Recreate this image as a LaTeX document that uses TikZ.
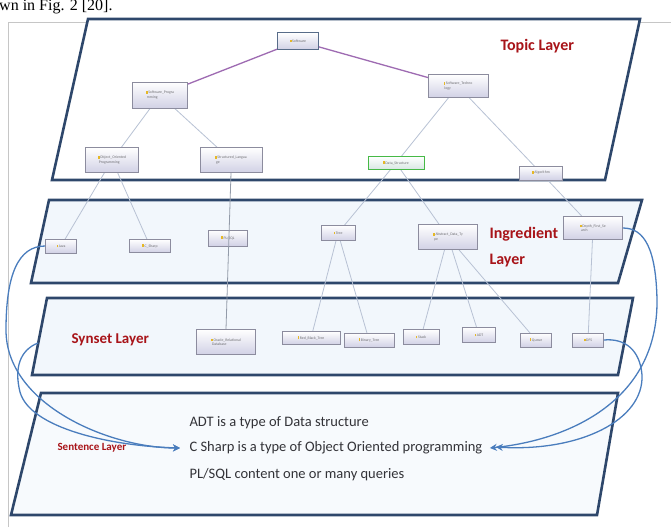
\documentclass[tikz,border=0pt]{standalone}
\usepackage{fontspec}
\setmainfont{Carlito}
\newfontfamily\capfont{Liberation Serif}
\usetikzlibrary{arrows.meta}
\newcommand\tico{\textcolor{tkIcon}{\rule{1.6pt}{2.6pt}}\,}

\begin{document}
\begin{tikzpicture}[x=1pt, y=-1pt, layer/.style={line width=2.6pt, tkFrame, line join=miter}, tbox/.style={draw=tkBoxLine, line width=0.7pt, top color=white, bottom color=tkBoxFill, inner sep=1.2pt, align=left, font=\fontsize{3.8}{4.4}\selectfont, text=tkInk!70}, twig/.style={line width=0.8pt, tkTwig}, trunk/.style={line width=1.3pt, tkPurple}, tag/.style={font=\fontsize{16}{18}\selectfont\bfseries, text=tkRed, anchor=west}, sent/.style={font=\fontsize{14.5}{16}\selectfont, text=tkInk, anchor=west}, link/.style={line width=1.3pt, tkBlue, -{Stealth[length=7pt, width=7pt]}}]
\definecolor{tkInk}{rgb}{0.20,0.20,0.22}
\definecolor{tkFrame}{rgb}{0.18,0.28,0.42}
\definecolor{tkPaper}{rgb}{0.95,0.97,0.99}
\definecolor{tkBoxFill}{rgb}{0.82,0.82,0.90}
\definecolor{tkBoxLine}{rgb}{0.55,0.55,0.62}
\definecolor{tkIcon}{rgb}{0.90,0.72,0.15}
\definecolor{tkTwig}{rgb}{0.72,0.76,0.83}
\definecolor{tkPurple}{rgb}{0.62,0.42,0.70}
\definecolor{tkRed}{rgb}{0.66,0.08,0.10}
\definecolor{tkBlue}{rgb}{0.29,0.49,0.74}
\useasboundingbox (0,0) rectangle (671,527);
\clip (0,0) rectangle (671,527);
\node[anchor=base west, font=\capfont\fontsize{16}{18}\selectfont, inner sep=0pt] (cap) at (-1,11) {wn in Fig. 2 [20].};
\draw[gray!45, line width=0.8pt] (8,527) -- (8,22) -- (671,22);
\filldraw[layer, fill=white] (88,19) -- (640,19) -- (605,180) -- (52,180) -- cycle;
\filldraw[layer, fill=tkPaper] (49,200) -- (642,200) -- (618,283) -- (31,283) -- cycle;
\filldraw[layer, fill=tkPaper] (47,298) -- (633,298) -- (618,375) -- (32,375) -- cycle;
\filldraw[layer, fill=tkPaper!60] (41,393) -- (618,393) -- (597,515) -- (11,515) -- cycle;
\node[tag] (ltopic) at (497,46) {Topic Layer};
\node[tag] (lingr) at (486,234) {Ingredient};
\node[tag] (lingr2) at (486,261) {Layer};
\node[tag, font=\fontsize{15}{17}\selectfont\bfseries] (lsyn) at (68,340) {Synset Layer};
\node[tag, font=\fontsize{11}{13}\selectfont\bfseries] (lsent) at (54,448) {Sentence Layer};
\coordinate (soft) at (298,41);
\coordinate (softprog) at (160,95);
\coordinate (softtech) at (458,86);
\coordinate (oop) at (112,160);
\coordinate (struct) at (231,160);
\coordinate (datastr) at (396,163);
\coordinate (algo) at (541,173);
\coordinate (java) at (61,246);
\coordinate (csharp) at (150,246);
\coordinate (plsql) at (228,238);
\coordinate (tree) at (338,233);
\coordinate (adting) at (448,237);
\coordinate (dfsing) at (593,228);
\coordinate (oracle) at (226,342);
\coordinate (rbt) at (311,338);
\coordinate (bint) at (369,340);
\coordinate (stack) at (421,337);
\coordinate (adt) at (479,335);
\coordinate (queue) at (536,340);
\coordinate (dfs) at (588,340);
\draw[trunk] (soft) -- (softprog);
\draw[trunk] (soft) -- (softtech);
\draw[twig] (softprog) -- (oop);
\draw[twig] (softprog) -- (struct);
\draw[twig] (softtech) -- (datastr);
\draw[twig] (softtech) -- (algo);
\draw[twig] (oop) -- (java);
\draw[twig] (oop) -- (csharp);
\draw[twig] (datastr) -- (tree);
\draw[twig] (datastr) -- (adting);
\draw[twig] (algo) -- (dfsing);
\draw[twig] (tree) -- (rbt);
\draw[twig] (tree) -- (bint);
\draw[twig] (adting) -- (stack);
\draw[twig] (adting) -- (adt);
\draw[twig] (adting) -- (queue);
\draw[twig] (dfsing) -- (dfs);
\node[tbox, draw=tkFrame!80, minimum width=41pt, minimum height=17pt] (nsoft) at (soft) {\tico Software};
\node[tbox, minimum width=55pt, minimum height=26pt] (nsoftprog) at (softprog) {\tico Software\_Progra\\\ mming};
\node[tbox, minimum width=60pt, minimum height=23pt] (nsofttech) at (softtech) {\tico Software\_Techno\\\ logy};
\node[tbox, minimum width=53pt, minimum height=25pt] (noop) at (oop) {\tico Object\_Oriented\\\ Programming};
\node[tbox, minimum width=62pt, minimum height=25pt] (nstruct) at (struct) {\tico Structured\_Langua\\\ ge};
\node[tbox, draw=green!45!gray, bottom color=green!10!tkBoxFill!60, minimum width=56pt, minimum height=13pt] (ndatastr) at (datastr) {\tico Data\_Structure};
\node[tbox, minimum width=43pt, minimum height=14pt] (nalgo) at (algo) {\tico Algorithm};
\node[tbox, minimum width=31pt, minimum height=14pt] (njava) at (java) {\tico Java};
\node[tbox, minimum width=41pt, minimum height=13pt] (ncsharp) at (csharp) {\tico C\_Sharp};
\node[tbox, minimum width=39pt, minimum height=16pt] (nplsql) at (plsql) {\tico PL/SQL};
\node[tbox, minimum width=34pt, minimum height=15pt] (ntree) at (tree) {\tico Tree};
\node[tbox, minimum width=59pt, minimum height=25pt] (nadting) at (adting) {\tico Abstract\_Data\_Ty\\\ pe};
\node[tbox, minimum width=59pt, minimum height=23pt] (ndfsing) at (dfsing) {\tico Depth\_First\_Se\\\ arch};
\node[tbox, minimum width=59pt, minimum height=25pt] (noracle) at (oracle) {\tico Oracle\_Relational\\\ Database};
\node[tbox, minimum width=58pt, minimum height=13pt] (nrbt) at (rbt) {\tico Red\_Black\_Tree};
\node[tbox, minimum width=50pt, minimum height=14pt] (nbint) at (bint) {\tico Binary\_Tree};
\node[tbox, minimum width=36pt, minimum height=15pt] (nstack) at (stack) {\tico Stack};
\node[tbox, minimum width=33pt, minimum height=15pt] (nadt) at (adt) {\tico ADT};
\node[tbox, minimum width=31pt, minimum height=14pt] (nqueue) at (queue) {\tico Queue};
\node[tbox, minimum width=31pt, minimum height=14pt] (ndfs) at (dfs) {\tico DFS};
\draw[twig, tkTwig!80!black] (nstruct.south) -- (noracle.north);
\node[sent] (s1) at (186,423) {ADT is a type of Data structure};
\node[sent] (s2) at (186,448) {C Sharp is a type of Object Oriented programming};
\node[sent] (s3) at (186,475) {PL/SQL content one or many queries};
\coordinate (synleft) at (38,343);
\draw[link] (njava.west) .. controls (18,246) and (6,275) .. (6,330) .. controls (6,405) and (110,448) .. ([xshift=-6pt]s2.west);
\draw[link] (synleft) .. controls (20,350) and (14,368) .. (20,392) .. controls (30,428) and (110,446) .. ([xshift=-6pt]s2.west);
\draw[link] (ndfsing.east) .. controls (645,228) and (656,250) .. (657,300) .. controls (658,400) and (570,440) .. ([xshift=4pt]s2.east);
\draw[link] (ndfs.east) .. controls (625,338) and (640,350) .. (642,375) .. controls (644,420) and (580,452) .. ([xshift=10pt, yshift=1pt]s2.east);
\end{tikzpicture}
\end{document}
